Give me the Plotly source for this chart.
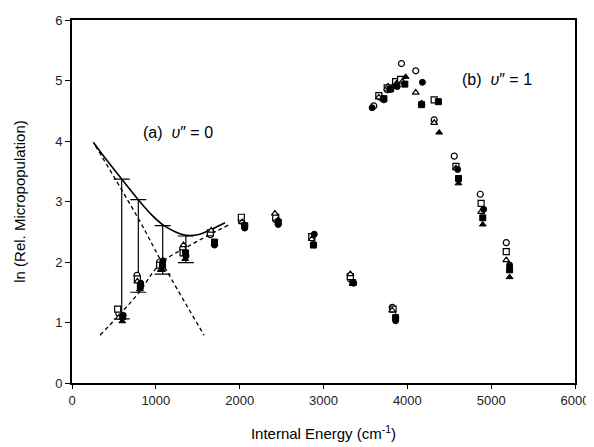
import plotly.graph_objects as go

# ---- data ----
oc_x = [560, 775, 1045, 1320, 1650, 2020, 2430, 2860, 3320, 3820, 3600, 3680, 3760, 3850, 3930, 4100, 4320, 4560, 4870, 5180]
oc_y = [1.15, 1.78, 2.00, 2.22, 2.45, 2.68, 2.70, 2.40, 1.72, 1.25, 4.58, 4.72, 4.85, 4.92, 5.28, 5.16, 4.35, 3.75, 3.12, 2.32]

os_x = [545, 780, 1045, 1325, 1650, 2020, 2430, 2860, 3320, 3830, 3660, 3760, 3860, 3920, 4320, 4580, 4880, 5180]
os_y = [1.22, 1.72, 1.95, 2.15, 2.48, 2.74, 2.74, 2.42, 1.76, 1.22, 4.75, 4.88, 4.98, 5.02, 4.68, 3.58, 2.97, 2.17]

ot_x = [560, 780, 1060, 1330, 1660, 2030, 2420, 2860, 3320, 3820, 3660, 3770, 3870, 3940, 4100, 4320, 4580, 4880, 5180]
ot_y = [1.08, 1.68, 1.87, 2.28, 2.52, 2.66, 2.80, 2.38, 1.80, 1.20, 4.72, 4.90, 4.95, 4.98, 4.80, 4.30, 3.55, 2.83, 2.03]

fc_x = [610, 820, 1085, 1360, 1700, 2060, 2460, 2890, 3360, 3860, 3580, 3720, 3790, 3880, 4180, 4600, 4910, 5220]
fc_y = [1.12, 1.65, 2.02, 2.10, 2.28, 2.56, 2.62, 2.46, 1.65, 1.03, 4.55, 4.68, 4.85, 4.90, 4.97, 3.53, 2.87, 1.95]

fs_x = [605, 815, 1080, 1355, 1700, 2060, 2460, 2880, 3350, 3860, 3720, 3800, 3970, 4170, 4370, 4610, 4900, 5220]
fs_y = [1.10, 1.60, 1.95, 2.15, 2.33, 2.60, 2.66, 2.28, 1.66, 1.08, 4.70, 4.86, 4.94, 4.60, 4.65, 3.38, 2.73, 1.87]

ft_x = [600, 810, 1075, 1350, 1700, 2060, 2460, 2880, 3350, 3860, 3800, 3870, 3980, 4170, 4380, 4610, 4900, 5220]
ft_y = [1.02, 1.55, 1.87, 2.05, 2.30, 2.62, 2.70, 2.30, 1.64, 1.10, 4.87, 4.93, 5.06, 4.63, 4.14, 3.30, 2.62, 1.75]

# fitted curves
solid_x = [254, 400, 593, 791, 950, 1090, 1230, 1368, 1527, 1647, 1826]
solid_y = [3.98, 3.71, 3.37, 3.03, 2.78, 2.61, 2.50, 2.44, 2.46, 2.53, 2.65]

dash_down_x = [280, 811, 1050, 1575]
dash_down_y = [3.92, 2.67, 2.05, 0.79]

dash_up_x = [334, 560, 790, 1060, 1400, 1865]
dash_up_y = [0.79, 1.12, 1.48, 1.98, 2.27, 2.61]

# error bars (low/high limits)
err_x = [593, 791, 1082, 1358]
err_lo = [1.06, 1.50, 1.80, 1.99]
err_hi = [3.37, 3.03, 2.60, 2.43]

x_ticks = [0, 1000, 2000, 3000, 4000, 5000, 6000]
y_ticks = [0, 1, 2, 3, 4, 5, 6]

fig = go.Figure()

# curves
fig.add_trace(go.Scatter(x=solid_x, y=solid_y, mode="lines",
                         line=dict(color="black", width=1.6, shape="spline"), hoverinfo="skip"))
fig.add_trace(go.Scatter(x=dash_down_x, y=dash_down_y, mode="lines",
                         line=dict(color="black", width=1.3, dash="4px,3px", shape="spline"), hoverinfo="skip"))
fig.add_trace(go.Scatter(x=dash_up_x, y=dash_up_y, mode="lines",
                         line=dict(color="black", width=1.3, dash="4px,3px", shape="spline"), hoverinfo="skip"))

# error bars
mid = [(lo + hi) / 2 for lo, hi in zip(err_lo, err_hi)]
fig.add_trace(go.Scatter(
    x=err_x, y=mid, mode="markers", marker=dict(size=1, opacity=0),
    error_y=dict(type="data", symmetric=False,
                 array=[hi - m for hi, m in zip(err_hi, mid)],
                 arrayminus=[m - lo for lo, m in zip(err_lo, mid)],
                 color="black", thickness=1.2, width=8)))

open_style = dict(color="white", size=6, line=dict(color="black", width=1.2))
filled_style = dict(color="black", size=6, line=dict(color="black", width=1))

series = [
    (oc_x, oc_y, "circle", open_style),
    (os_x, os_y, "square", open_style),
    (ot_x, ot_y, "triangle-up", open_style),
    (fc_x, fc_y, "circle", filled_style),
    (fs_x, fs_y, "square", filled_style),
    (ft_x, ft_y, "triangle-up", filled_style),
]
for xs, ys, sym, st in series:
    fig.add_trace(go.Scatter(x=xs, y=ys, mode="markers",
                             marker=dict(symbol=sym, **st)))

fig.add_annotation(x=1259, y=4.14, text="(a)  <i>υ</i>″ = 0", showarrow=False,
                   font=dict(size=16, color="black", family="Liberation Sans, Arial"))
fig.add_annotation(x=5072, y=5.02, text="(b)  <i>υ</i>″ = 1", showarrow=False,
                   font=dict(size=16, color="black", family="Liberation Sans, Arial"))

# page body has an 8px margin, so the figure is sized to fit the window from (8, 8)
fig.update_layout(
    width=586, height=439,
    margin=dict(l=64, r=19, t=12, b=64),
    paper_bgcolor="white", plot_bgcolor="white",
    showlegend=False,
    font=dict(family="Liberation Sans, Arial", color="black"),
)
fig.update_xaxes(range=[0, 6000], tickvals=x_ticks, ticks="outside", ticklen=4,
                 tickwidth=1.2, tickcolor="black", showgrid=False, zeroline=False,
                 showline=True, linecolor="black", linewidth=2, mirror=True,
                 automargin=False,
                 tickfont=dict(size=13, color="#222"),
                 title=dict(text="Internal Energy (cm<sup>-1</sup>)", font=dict(size=15), standoff=22))
fig.update_yaxes(range=[0, 6], tickvals=y_ticks, ticks="outside", ticklen=5,
                 tickwidth=1.2, tickcolor="black", showgrid=False, zeroline=False,
                 showline=True, linecolor="black", linewidth=2, mirror=True,
                 automargin=False,
                 tickfont=dict(size=13, color="#222"),
                 title=dict(text="ln (Rel. Micropopulation)", font=dict(size=15), standoff=26))

fig.write_html("out.html")
